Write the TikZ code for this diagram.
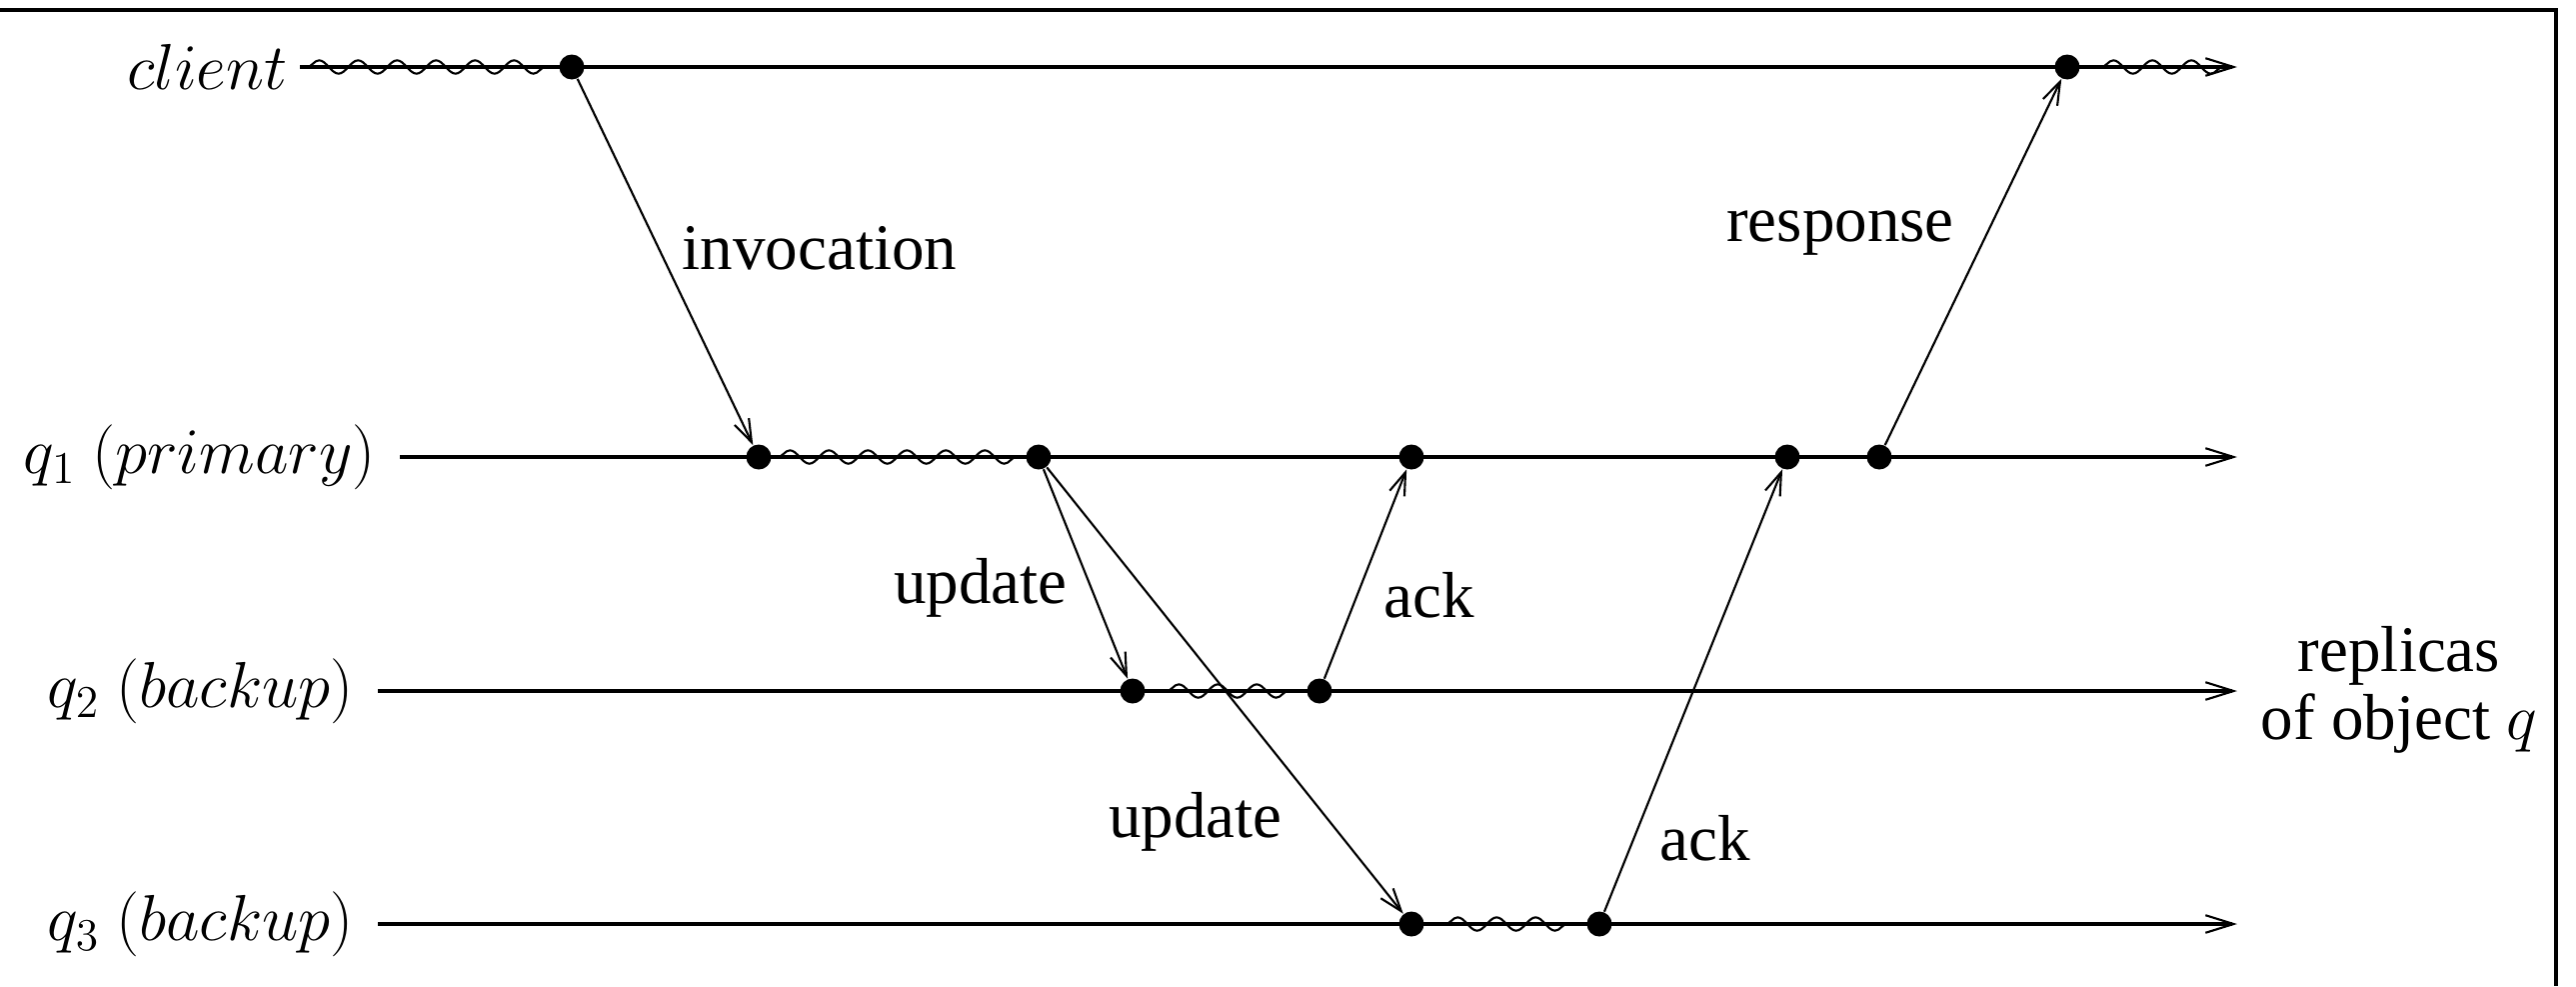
\documentclass[tikz,border=0pt]{standalone}
\usepackage{fix-cm}
\usepackage[no-math]{fontspec}
\setmainfont{Liberation Serif}
\usetikzlibrary{arrows.meta}
\usetikzlibrary{decorations.pathmorphing}
\usetikzlibrary{positioning}

\begin{document}
\begin{tikzpicture}[every node/.style={font=\fontsize{18.5}{19.5}\selectfont}]
\tikzstyle{event}=[circle,fill,inner sep=0pt,minimum size=0.25cm]
\tikzstyle{timeline}=[line width=1.1pt,-{Straight Barb[length=8pt,width=5pt,line width=0.6pt]}]
\tikzstyle{msg}=[line width=0.6pt,-{Straight Barb[length=6.5pt,width=4.5pt]}]
\tikzstyle{wavy}=[line width=0.6pt,decorate,decoration={snake,segment length=0.39cm,amplitude=1.9pt}]

\useasboundingbox (0,0) rectangle (25.77,9.86);

% FRAME
\draw [line width=1pt] (0,9.76) -- (25.57,9.76) -- (25.57,0);

% CLIENT
\coordinate (cS) at (3.00,9.19);
\coordinate (cE) at (22.38,9.19);
\node (client) [left=0cm of cS] {$client$};
\draw [timeline] (cS) -- (cE);

% PRIMARY
\coordinate (pS) at (4.00,5.29);
\coordinate (pE) at (22.38,5.29);
\node (prim) [left=0.12cm of pS] {$q_1\ (primary)$};
\draw [timeline] (pS) -- (pE);

% BACKUPS
\coordinate (bS) at (3.78,2.95);
\coordinate (bE) at (22.38,2.95);
\node (back2) [left=0.12cm of bS] {$q_2\ (backup)$};
\draw [timeline] (bS) -- (bE);

\coordinate (rS) at (3.78,0.62);
\coordinate (rE) at (22.38,0.62);
\node (back3) [left=0.12cm of rS] {$q_3\ (backup)$};
\draw [timeline] (rS) -- (rE);

\node (replicas) [align=center] at (24.00,2.96) {replicas\\of object $q$};

% EVENTS
\node [event] (c1) at (5.72,9.19) {};
\node [event] (c2) at (20.68,9.19) {};
\node [event] (p1) at (7.59,5.29) {};
\node [event] (p2) at (10.39,5.29) {};
\node [event] (p3) at (14.12,5.29) {};
\node [event] (p4) at (17.88,5.29) {};
\node [event] (p5) at (18.80,5.29) {};
\node [event] (b1) at (11.33,2.95) {};
\node [event] (b2) at (13.20,2.95) {};
\node [event] (r1) at (14.12,0.62) {};
\node [event] (r2) at (16.00,0.62) {};

% LOCAL COMPUTATION
\draw [wavy] ([xshift=0.07cm]cS) -- ([xshift=-0.12cm]c1.center);
\draw [wavy] ([xshift=0.34cm]c2.center) -- ([xshift=-0.04cm]cE);
\draw [wavy] ([xshift=0.19cm]p1.center) -- ([xshift=-0.05cm]p2.center);
\draw [wavy] ([xshift=0.34cm]b1.center) -- ([xshift=-0.2cm]b2.center);
\draw [wavy] ([xshift=0.34cm]r1.center) -- ([xshift=-0.2cm]r2.center);

% MESSAGES
\draw [msg] (c1) -- (p1);
\draw [msg] (p2) -- (b1);
\draw [msg] (p2) -- (r1);
\draw [msg] (b2) -- (p3);
\draw [msg] (r2) -- (p4);
\draw [msg] (p5) -- (c2);

\node (inv) at (8.20,7.38) {invocation};
\node (resp) at (18.41,7.53) {response};
\node (upd2) at (9.81,3.98) {update};
\node (ack2) at (14.30,3.91) {ack};
\node (upd3) at (11.96,1.64) {update};
\node (ack3) at (17.06,1.48) {ack};

\end{tikzpicture}
\end{document}
